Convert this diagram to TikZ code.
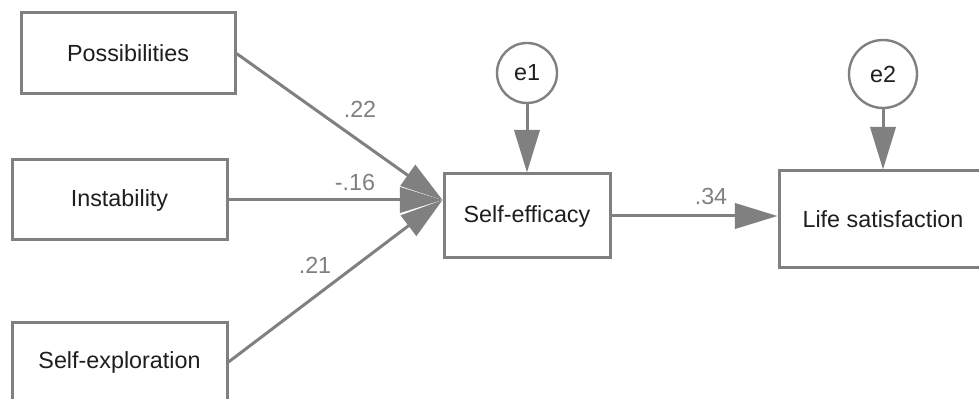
\documentclass[tikz,border=0pt]{standalone}
\usepackage{fontspec}
\setmainfont{Liberation Sans}
\usetikzlibrary{arrows.meta}
\definecolor{pathgray}{RGB}{128,128,128}
\definecolor{txtgray}{RGB}{30,30,30}
\begin{document}
\begin{tikzpicture}[x=0.75pt,y=-0.75pt,
                    var node/.style={rectangle,draw=pathgray,line width=2.25pt,fill=white,
                                     text=txtgray,font=\fontsize{17.5}{20}\selectfont},
                    err node/.style={circle,draw=pathgray,line width=1.8pt,fill=white,inner sep=0pt,
                                     text=txtgray,font=\fontsize{17.5}{20}\selectfont},
                    coef/.style={text=pathgray,font=\fontsize{17.5}{20}\selectfont},
                    path arrow/.style={draw,color=pathgray,line width=2.25pt,
                                       -{Triangle[length=32pt,width=19pt]}}]

        \useasboundingbox (0,0) rectangle (979,399);
        \begin{scope}
        \clip (0,0) rectangle (979,399);

        % Define vertices
        \node[var node,minimum width=160.5pt,minimum height=60.75pt] (pos) at (128,53.5) {Possibilities};
        \node[var node,minimum width=161.25pt,minimum height=60pt] (ins) at (119.5,200) {Instability};
        \node[var node,minimum width=161.25pt,minimum height=60pt] (exp) at (119.5,362) {Self-exploration};
        \node[var node,minimum width=124.5pt,minimum height=63pt] (eff) at (527,216) {Self-efficacy};
        \node[var node,minimum width=156pt,minimum height=72.75pt] (life) at (883,219.5) {Life satisfaction};
        \node[err node,minimum size=45pt] (e1) at (527,73) {e1};
        \node[err node,minimum size=51pt] (e2) at (883,74) {e2};

        % Draw edges
        \path[every edge/.style={path arrow}]
            (pos.east) edge (eff.west |- ins)
            (ins) edge (eff.west |- ins)
            (exp.east) edge (eff.west |- ins)
            (e1) edge (eff)
            (e2) edge (life)
            (eff.east) edge (life.west |- eff.east);

        % Coefficients
        \node[coef] (c22) at (360,109) {.22};
        \node[coef] (c16) at (355,182) {-.16};
        \node[coef] (c21) at (315,265) {.21};
        \node[coef] (c34) at (711,196) {.34};
        \end{scope}

\end{tikzpicture}
\end{document}
